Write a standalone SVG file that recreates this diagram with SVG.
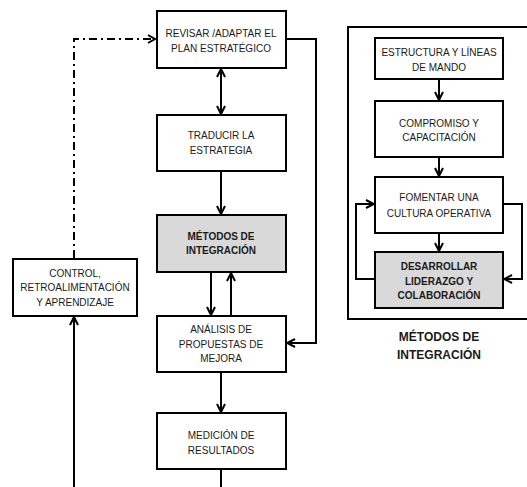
<svg xmlns="http://www.w3.org/2000/svg" width="527" height="487" viewBox="0 0 527 487">
  <style>
    .box { fill: #ffffff; stroke: #000000; stroke-width: 2; }
    .hl { fill: #d9d9d9; }
    .lbl { font-family: "Liberation Sans", Arial, sans-serif; font-size: 10px; fill: #1a1a1a; text-anchor: middle; }
    .bold { font-weight: bold; }
    .cap { font-family: "Liberation Sans", Arial, sans-serif; font-size: 12px; font-weight: bold; fill: #1a1a1a; text-anchor: middle; }
    .wire { fill: none; stroke: #000000; stroke-width: 2; }
    .dashdot { fill: none; stroke: #000000; stroke-width: 2; stroke-dasharray: 8 4 2 4; }
  </style>
  <defs>
    <marker id="arr" viewBox="0 0 10 10" refX="9" refY="5" markerWidth="10" markerHeight="10" markerUnits="userSpaceOnUse" orient="auto-start-reverse">
      <path d="M1,1 L9,5 L1,9" fill="none" stroke="#000" stroke-width="2"/>
    </marker>
  </defs>
  <rect width="527" height="487" fill="#ffffff"/>

  <!-- connectors -->
  <g id="connectors">
    <line class="wire" x1="221" y1="69" x2="221" y2="114" marker-start="url(#arr)" marker-end="url(#arr)"/>
    <line class="wire" x1="221" y1="172" x2="221" y2="214" marker-end="url(#arr)"/>
    <line class="wire" x1="211" y1="273" x2="211" y2="315" marker-end="url(#arr)"/>
    <line class="wire" x1="231" y1="315" x2="231" y2="273" marker-end="url(#arr)"/>
    <polyline class="wire" points="287,39 316,39 316,343 287,343" marker-end="url(#arr)"/>
    <line class="wire" x1="221" y1="373" x2="221" y2="412" marker-end="url(#arr)"/>
    <line class="wire" x1="221" y1="470" x2="221" y2="487"/>
    <line class="wire" x1="74" y1="487" x2="74" y2="317" marker-end="url(#arr)"/>
    <polyline class="dashdot" points="74,258 74,39 155,39"/>
    <path d="M148,35 L155,39 L148,43" fill="none" stroke="#000" stroke-width="2"/>
    <line class="wire" x1="439" y1="80" x2="439" y2="100" marker-end="url(#arr)"/>
    <line class="wire" x1="439" y1="158" x2="439" y2="176" marker-end="url(#arr)"/>
    <line class="wire" x1="439" y1="234" x2="439" y2="251" marker-end="url(#arr)"/>
    <polyline class="wire" points="374,279 356,279 356,204 374,204" marker-end="url(#arr)"/>
    <polyline class="wire" points="504,204 522,204 522,279 504,279" marker-end="url(#arr)"/>
  </g>

  <!-- group frame -->
  <g id="frame">
    <rect x="348" y="27" width="182" height="292" fill="none" stroke="#000" stroke-width="2"/>
    <text class="cap" x="439" y="341">MÉTODOS DE</text>
    <text class="cap" x="439" y="359">INTEGRACIÓN</text>
  </g>

  <g id="revisar">
    <rect class="box" x="157" y="11" width="129" height="57"/>
    <text class="lbl" x="221" y="37">REVISAR /ADAPTAR EL</text>
    <text class="lbl" x="221" y="52">PLAN ESTRATÉGICO</text>
  </g>
  <g id="traducir">
    <rect class="box" x="157" y="115" width="129" height="56"/>
    <text class="lbl" x="221" y="139">TRADUCIR LA</text>
    <text class="lbl" x="221" y="154">ESTRATEGIA</text>
  </g>
  <g id="metodos">
    <rect class="box hl" x="157" y="215" width="129" height="57"/>
    <text class="lbl bold" x="221" y="240">MÉTODOS DE</text>
    <text class="lbl bold" x="221" y="254">INTEGRACIÓN</text>
  </g>
  <g id="analisis">
    <rect class="box" x="157" y="316" width="129" height="56"/>
    <text class="lbl" x="221" y="333">ANÁLISIS DE</text>
    <text class="lbl" x="221" y="348">PROPUESTAS DE</text>
    <text class="lbl" x="221" y="362">MEJORA</text>
  </g>
  <g id="medicion">
    <rect class="box" x="157" y="413" width="129" height="56"/>
    <text class="lbl" x="221" y="439">MEDICIÓN DE</text>
    <text class="lbl" x="221" y="454">RESULTADOS</text>
  </g>
  <g id="control">
    <rect class="box" x="13" y="259" width="124" height="57"/>
    <text class="lbl" x="75" y="277">CONTROL,</text>
    <text class="lbl" x="75" y="291">RETROALIMENTACIÓN</text>
    <text class="lbl" x="75" y="306">Y APRENDIZAJE</text>
  </g>
  <g id="estructura">
    <rect class="box" x="375" y="38" width="128" height="41"/>
    <text class="lbl" x="439" y="56">ESTRUCTURA Y LÍNEAS</text>
    <text class="lbl" x="439" y="71">DE MANDO</text>
  </g>
  <g id="compromiso">
    <rect class="box" x="375" y="101" width="128" height="56"/>
    <text class="lbl" x="439" y="127">COMPROMISO Y</text>
    <text class="lbl" x="439" y="141">CAPACITACIÓN</text>
  </g>
  <g id="fomentar">
    <rect class="box" x="375" y="177" width="128" height="56"/>
    <text class="lbl" x="439" y="201">FOMENTAR UNA</text>
    <text class="lbl" x="439" y="217">CULTURA OPERATIVA</text>
  </g>
  <g id="desarrollar">
    <rect class="box hl" x="375" y="252" width="128" height="56"/>
    <text class="lbl bold" x="439" y="270">DESARROLLAR</text>
    <text class="lbl bold" x="439" y="285">LIDERAZGO Y</text>
    <text class="lbl bold" x="439" y="299">COLABORACIÓN</text>
  </g>
</svg>
